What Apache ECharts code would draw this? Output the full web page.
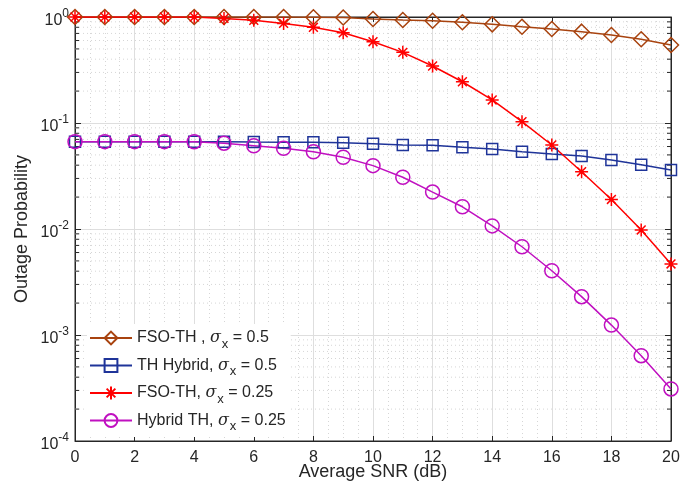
<!DOCTYPE html>
<html>
<head>
<meta charset="utf-8">
<script src="https://cdn.jsdelivr.net/npm/echarts@6/dist/echarts.min.js"></script>
<style>html,body{margin:0;padding:0;background:#fff;}#c{width:694px;height:485px;}</style>
</head>
<body>
<div id="c"></div>
<script>
// ---- data ----
var snr = [0,1,2,3,4,5,6,7,8,9,10,11,12,13,14,15,16,17,18,19,20];
var fsoTh05 = [1,1,1,1,1,1,1,0.998,0.995,0.99,0.957,0.937,0.923,0.891,0.853,0.81,0.77,0.727,0.676,0.616,0.544];
var thHybrid05 = [0.0667,0.0667,0.0667,0.0667,0.0667,0.0666,0.0662,0.066,0.0657,0.0652,0.0638,0.062,0.0616,0.059,0.0569,0.0536,0.051,0.0489,0.0448,0.0404,0.036];
var fsoTh025 = [1,1,1,1,1,0.97,0.93,0.87,0.8,0.71,0.585,0.464,0.345,0.245,0.165,0.103,0.062,0.0347,0.019,0.0098,0.00468];
var hybridTh025 = [0.0667,0.0667,0.0667,0.0667,0.0665,0.0645,0.061,0.0577,0.0536,0.0475,0.0396,0.0308,0.0223,0.0162,0.0107,0.0068,0.00404,0.0023,0.00124,0.000638,0.00031];
var seriesNames = ['FSO-TH , σx = 0.5','TH Hybrid, σx = 0.5','FSO-TH, σx = 0.25','Hybrid TH, σx = 0.25'];
var legendLabels = [
  '{n|FSO-TH , }{s|σ}{sub|x}{n| = 0.5}',
  '{n|TH Hybrid, }{s|σ}{sub|x}{n| = 0.5}',
  '{n|FSO-TH, }{s|σ}{sub|x}{n| = 0.25}',
  '{n|Hybrid TH, }{s|σ}{sub|x}{n| = 0.25}'
];
var xTicks = [0,2,4,6,8,10,12,14,16,18,20];
var yDecades = [-4,-3,-2,-1,0];
// ---- build ----
var minorY = [];
yDecades.slice(0,-1).forEach(function(e){ for (var m=2;m<=9;m++) minorY.push(m*Math.pow(10,e)); });
function pairs(a){ return snr.map(function(x,i){ return [x,a[i]]; }); }
var colors = ['#A8430F','#1F3499','#FF0000','#C010C0'];
var symbols = ['diamond','rect','path://M5,0L5,10M0,5L10,5M1.6,1.6L8.4,8.4M1.6,8.4L8.4,1.6','circle'];
var sizes = [15,11,13,14];
var vals = [fsoTh05, thHybrid05, fsoTh025, hybridTh025];
var font = 'Arial, "Liberation Sans", Helvetica, sans-serif';
var axisCol = '#262626';
var chart = echarts.init(document.getElementById('c'), null, {renderer:'canvas'});
var series = vals.map(function(v,i){
  return {
    name: seriesNames[i], type:'line', data: pairs(v), xAxisIndex:0, yAxisIndex:0,
    symbol: symbols[i], symbolSize: sizes[i], z: 5,
    lineStyle:{color: colors[i], width:1.5},
    itemStyle:{color:'rgba(0,0,0,0)', borderColor: colors[i], borderWidth: 1.5},
    emphasis:{disabled:true}, animation:false
  };
});
series.unshift({
  type:'custom', silent:true, z:1, xAxisIndex:0, yAxisIndex:0, animation:false,
  data: minorY.map(function(v){ return [0, v]; }),
  renderItem: function(params, api){
    var v = api.value(1);
    var p0 = api.coord([0, v]), p1 = api.coord([20, v]);
    return {type:'group', children:[
      {type:'line', shape:{x1:p0[0],y1:p0[1],x2:p1[0],y2:p1[1]}, style:{stroke:'#d6d6d6', lineWidth:1, lineDash:[1,3]}},
      {type:'line', shape:{x1:p0[0],y1:p0[1],x2:p0[0]+4,y2:p0[1]}, style:{stroke:axisCol, lineWidth:1}},
      {type:'line', shape:{x1:p1[0],y1:p1[1],x2:p1[0]-4,y2:p1[1]}, style:{stroke:axisCol, lineWidth:1}}
    ]};
  }
});
var supRich = {
  b:{fontSize:16, fontFamily:font, color:axisCol, padding:[7,0,0,0]},
  sup:{fontSize:12, fontFamily:font, color:axisCol, padding:[0,0,7,0]}
};
chart.setOption({
  backgroundColor:'#fff',
  animation:false,
  grid:{left:75, right:23, top:17, bottom:44, show:true, borderColor:axisCol, borderWidth:1, backgroundColor:'#fff', outerBoundsMode:'none', containLabel:false},
  legend:{
    show:true, orient:'vertical', left:87, top:324, data: seriesNames,
    itemWidth:42, itemHeight:16, itemGap:7, selectedMode:false,
    backgroundColor:'#fff', padding:[6,5,4,2], z:10,
    formatter: function(name){ return legendLabels[seriesNames.indexOf(name)]; },
    textStyle:{
      fontFamily:font, fontSize:16, color:'#262626',
      rich:{
        n:{fontSize:16, fontFamily:font, color:'#262626'},
        s:{fontSize:16, fontFamily:'"DejaVu Serif", "Liberation Serif", serif', fontStyle:'italic', color:'#262626'},
        sub:{fontSize:13, fontFamily:font, color:'#262626', padding:[12,0,0,1]}
      }
    }
  },
  xAxis:[{
    type:'value', min:0, max:20, interval:2, position:'bottom',
    name:'Average SNR (dB)', nameLocation:'middle', nameGap:22, nameMoveOverlap:false,
    nameTextStyle:{fontFamily:font, fontSize:18, color:axisCol},
    axisLine:{show:true, onZero:false, lineStyle:{color:axisCol, width:1}},
    axisTick:{show:true, inside:true, length:5, lineStyle:{color:axisCol}},
    axisLabel:{fontFamily:font, fontSize:16, color:axisCol, margin:9},
    splitLine:{show:true, lineStyle:{color:'#dedede', width:1}},
    minorTick:{show:false, splitNumber:4},
    minorSplitLine:{show:true, lineStyle:{color:'#d6d6d6', width:1, type:[1,3]}}
  },{
    type:'value', min:0, max:20, interval:2, position:'top',
    axisLine:{show:true, onZero:false, lineStyle:{color:axisCol}},
    axisTick:{show:true, inside:true, length:5, lineStyle:{color:axisCol}},
    axisLabel:{show:false}, splitLine:{show:false}
  }],
  yAxis:[{
    type:'log', logBase:10, min:1e-4, max:1, position:'left',
    name:'Outage Probability', nameLocation:'middle', nameGap:44, nameMoveOverlap:false,
    nameTextStyle:{fontFamily:font, fontSize:18, color:axisCol},
    axisLine:{show:true, onZero:false, lineStyle:{color:axisCol, width:1}},
    axisTick:{show:true, inside:true, length:6, lineStyle:{color:axisCol}},
    axisLabel:{margin:6, formatter:function(v){ return '{b|10}{sup|' + Math.round(Math.log10(v)) + '}'; }, rich:supRich},
    splitLine:{show:true, lineStyle:{color:'#dedede', width:1}}
  },{
    type:'log', logBase:10, min:1e-4, max:1, position:'right',
    axisLine:{show:true, onZero:false, lineStyle:{color:axisCol}},
    axisTick:{show:true, inside:true, length:6, lineStyle:{color:axisCol}},
    axisLabel:{show:false}, splitLine:{show:false}
  }],
  series: series
});
</script>
</body>
</html>
